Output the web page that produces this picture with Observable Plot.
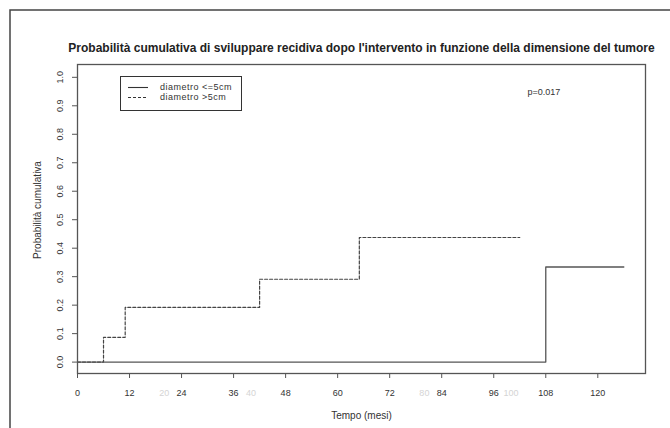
<!DOCTYPE html>
<html>
<head>
<meta charset="utf-8">
<script src="https://cdn.jsdelivr.net/npm/d3@7"></script>
<script src="https://cdn.jsdelivr.net/npm/@observablehq/plot@0.6"></script>
<style>
  html, body { margin: 0; padding: 0; background: white; }
  #chart { width: 670px; height: 428px; overflow: hidden; }
</style>
</head>
<body>
<div id="chart"></div>
<script>
// Cumulative incidence of recurrence after surgery, by tumour size
const title = "Probabilità cumulativa di sviluppare recidiva dopo l'intervento in funzione della dimensione del tumore";
const xLabel = "Tempo (mesi)";
const yLabel = "Probabilità cumulativa";
const pValue = "p=0.017";

// diametro <=5cm (solid)
const smallMonths = [0, 108, 126];
const smallProb = [0, 0.334, 0.334];
// diametro >5cm (dashed)
const largeMonths = [0, 6, 11, 42, 65, 102];
const largeProb = [0, 0.087, 0.192, 0.291, 0.4375, 0.4375];

const seriesNames = ["diametro <=5cm", "diametro >5cm"];

const xTicks = [0, 12, 24, 36, 48, 60, 72, 84, 96, 108, 120];
const faintTicks = [20, 40, 80, 100];
const yTicks = [0, 0.1, 0.2, 0.3, 0.4, 0.5, 0.6, 0.7, 0.8, 0.9, 1.0];

const small = smallMonths.map((t, i) => ({t, p: smallProb[i]}));
const large = largeMonths.map((t, i) => ({t, p: largeProb[i]}));

const font = "'Liberation Sans', Arial, sans-serif";

const chart = Plot.plot({
  width: 670,
  height: 428,
  marginLeft: 77,
  marginRight: 25,
  marginTop: 64,
  marginBottom: 55,
  x: {domain: [0, 131]},
  y: {domain: [-0.04, 1.045]},
  style: {fontFamily: font, fontSize: "9px", color: "#333", background: "white", overflow: "visible"},
  marks: [
    Plot.axisX(faintTicks, {tickSize: 0, tickPadding: 16, color: "#d4d4d4", label: null}),
    Plot.axisX(xTicks, {tickSize: 5, tickPadding: 11, stroke: "#555", label: null}),
    Plot.axisY(yTicks, {tickSize: 5, stroke: "#555", tickFormat: () => "", label: null}),
    Plot.text(yTicks, {y: d => d, text: d => d.toFixed(1), frameAnchor: "left", dx: -17.5, rotate: -90, textAnchor: "middle", fill: "#333"}),
    Plot.line(large, {x: "t", y: "p", curve: "step-after", stroke: "#444", strokeWidth: 1.2, strokeDasharray: "3,2"}),
    Plot.line(small, {x: "t", y: "p", curve: "step-after", stroke: "#555", strokeWidth: 1.3}),
    Plot.frame({stroke: "#555", strokeWidth: 1.3}),
    Plot.text([title], {frameAnchor: "top", dy: -21, fontWeight: "bold", fontSize: 12, fill: "#222"}),
    Plot.text([xLabel], {frameAnchor: "bottom", dy: 45, fontSize: 10, fill: "#333"}),
    Plot.text([yLabel], {frameAnchor: "left", dx: -40, dy: -9, rotate: -90, textAnchor: "middle", fontSize: 10, fill: "#333"}),
    Plot.text([pValue], {frameAnchor: "top-left", dx: 450, dy: 24, textAnchor: "start", fill: "#333"})
  ]
});

document.getElementById("chart").appendChild(chart);

// Outer border of the figure
const svg = d3.select(chart);
svg.append("rect")
  .attr("x", 10).attr("y", 10)
  .attr("width", 700).attr("height", 500)
  .attr("fill", "none").attr("stroke", "#444").attr("stroke-width", 1.5);

// Legend
const legend = svg.append("g")
  .attr("font-family", font).attr("font-size", 9).attr("fill", "#333")
  .attr("text-anchor", "start");
legend.append("rect")
  .attr("x", 120.5).attr("y", 76.5).attr("width", 121).attr("height", 34)
  .attr("fill", "white").attr("stroke", "#333").attr("stroke-width", 1);
const rows = [
  {name: seriesNames[0], y: 87.5, dash: null},
  {name: seriesNames[1], y: 97.5, dash: "3,2"}
];
rows.forEach(r => {
  legend.append("line")
    .attr("x1", 128).attr("x2", 148).attr("y1", r.y).attr("y2", r.y)
    .attr("stroke", "#333").attr("stroke-width", 1.1)
    .attr("stroke-dasharray", r.dash);
  legend.append("text")
    .attr("x", 160).attr("y", r.y).attr("dy", "0.32em")
    .attr("text-anchor", "start")
    .attr("letter-spacing", "0.5px")
    .text(r.name);
});
</script>
</body>
</html>
